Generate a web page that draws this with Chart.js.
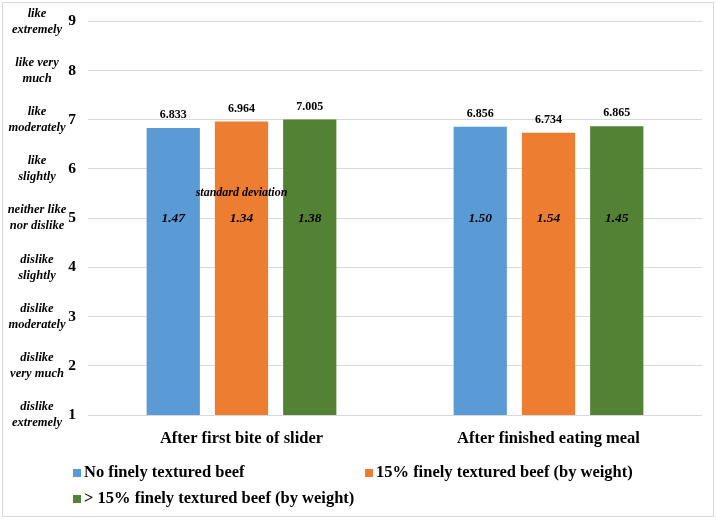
<!DOCTYPE html>
<html>
<head>
<meta charset="utf-8">
<script src="https://cdn.jsdelivr.net/npm/chart.js@4"></script>
<style>
  body { margin: 0; background: #fff; }
  #wrap { width: 716px; height: 520px; position: relative; }
</style>
</head>
<body>
<div id="wrap"><canvas id="myChart" width="716" height="520"></canvas></div>
<script>
'use strict';
// data
const categories = ['After first bite of slider', 'After finished eating meal'];
const seriesNames = ['No finely textured beef', '15% finely textured beef (by weight)', '> 15% finely textured beef (by weight)'];
const noFtb = [6.833, 6.856];
const ftb15 = [6.964, 6.734];
const ftbOver15 = [7.005, 6.865];
const sdNoFtb = [1.47, 1.50];
const sdFtb15 = [1.34, 1.54];
const sdFtbOver15 = [1.38, 1.45];
const scaleWords = {
  1: ['dislike', 'extremely'],
  2: ['dislike', 'very much'],
  3: ['dislike', 'moderately'],
  4: ['dislike', 'slightly'],
  5: ['neither like', 'nor dislike'],
  6: ['like', 'slightly'],
  7: ['like', 'moderately'],
  8: ['like very', 'much'],
  9: ['like', 'extremely']
};

const colors = ['#5b9bd5', '#ed7d31', '#548235'];
const serif = '"Liberation Serif", "DejaVu Serif", serif';
const sds = [sdNoFtb, sdFtb15, sdFtbOver15];

const extras = {
  id: 'extras',
  afterDraw(chart) {
    const ctx = chart.ctx;
    const y = chart.scales.y;
    ctx.save();
    // frame
    ctx.strokeStyle = '#d9d9d9';
    ctx.lineWidth = 1;
    ctx.strokeRect(2.5, 2.5, 711, 514);
    // words next to the scale numbers
    ctx.fillStyle = '#000';
    ctx.textAlign = 'center';
    ctx.textBaseline = 'middle';
    ctx.font = 'italic bold 12.5px ' + serif;
    for (let v = 1; v <= 9; v++) {
      const py = y.getPixelForValue(v);
      ctx.fillText(scaleWords[v][0], 37, py - 8);
      ctx.fillText(scaleWords[v][1], 37, py + 8);
    }
    // value labels and standard deviations
    const y5 = y.getPixelForValue(5);
    chart.data.datasets.forEach((ds, i) => {
      const meta = chart.getDatasetMeta(i);
      meta.data.forEach((bar, j) => {
        ctx.font = 'bold 12px ' + serif;
        ctx.fillText(ds.data[j].toFixed(3), bar.x, bar.y - 13);
        ctx.font = 'italic bold 13.5px ' + serif;
        ctx.fillText(sds[i][j].toFixed(2), bar.x, y5);
      });
    });
    ctx.font = 'italic bold 12px ' + serif;
    const mid = chart.getDatasetMeta(1).data[0].x;
    ctx.fillText('standard deviation', mid, y5 - 25);
    // legend
    ctx.textAlign = 'left';
    ctx.font = 'bold 16.5px ' + serif;
    const items = [[73, 473], [365, 473], [73, 499]];
    items.forEach((p, i) => {
      ctx.fillStyle = colors[i];
      ctx.fillRect(p[0], p[1] - 4, 8, 8);
      ctx.fillStyle = '#000';
      ctx.fillText(seriesNames[i], p[0] + 11, p[1]);
    });
    ctx.restore();
  }
};

const ctx = document.getElementById('myChart').getContext('2d');
const chart = new Chart(ctx, {
  type: 'bar',
  data: {
    labels: categories,
    datasets: [
      { label: seriesNames[0], data: noFtb, backgroundColor: colors[0] },
      { label: seriesNames[1], data: ftb15, backgroundColor: colors[1] },
      { label: seriesNames[2], data: ftbOver15, backgroundColor: colors[2] }
    ]
  },
  options: {
    responsive: false,
    animation: false,
    events: [],
    layout: { padding: { left: 0, right: 14, top: 21, bottom: 0 } },
    datasets: { bar: { categoryPercentage: 0.667, barPercentage: 0.78 } },
    plugins: { legend: { display: false }, tooltip: { enabled: false } },
    scales: {
      x: {
        grid: { display: false, drawTicks: false },
        border: { display: false },
        ticks: { color: '#000', font: { family: serif, size: 16.5, weight: 'bold' }, padding: 14 },
        afterFit(s) { s.height = 105; }
      },
      y: {
        min: 1,
        max: 9,
        grid: { color: '#d9d9d9', drawTicks: false },
        border: { display: false },
        ticks: { stepSize: 1, color: '#000', font: { family: serif, size: 15.5, weight: 'bold' }, padding: 12 },
        afterFit(s) { s.width = 88; }
      }
    }
  },
  plugins: [extras]
});
</script>
</body>
</html>
